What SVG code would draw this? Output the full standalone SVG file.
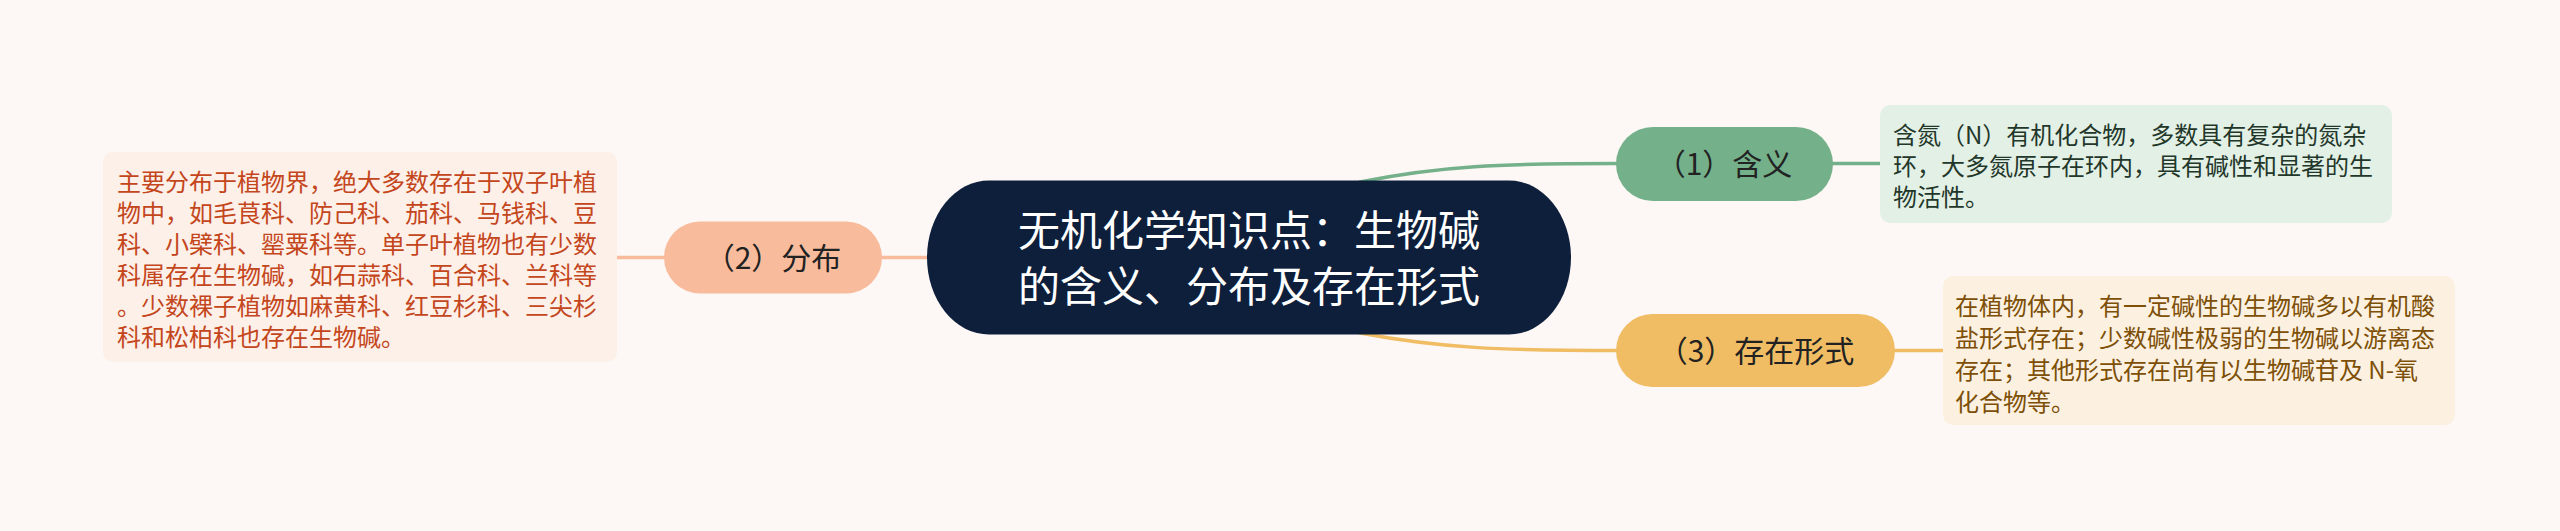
<svg xmlns="http://www.w3.org/2000/svg" width="2560" height="531" viewBox="0 0 2560 531">
<style>
text{font-family:"Noto Sans CJK SC","Noto Sans",sans-serif;}
.main{fill:#ffffff;font-size:42px;text-anchor:middle;}
.lbl{fill:#222222;font-size:30px;text-anchor:middle;}
.desc{font-size:24px;}
.c{fill:none;stroke-width:3.5;stroke-linecap:round;}
</style>
<rect x="0" y="0" width="2560" height="531" fill="#fdf8f6"/>
<g id="connectors">
<path class="c" stroke="#f8bc9c" d="M617,257.5 L664,257.5"/>
<path class="c" stroke="#f8bc9c" d="M882,257.5 L928,257.5"/>
<path class="c" stroke="#74b08a" d="M1360,182 C1440,166 1500,163.5 1617,163.5"/>
<path class="c" stroke="#74b08a" d="M1833,163.5 L1880,163.5"/>
<path class="c" stroke="#f0bd64" d="M1360,333 C1440,348 1500,350.5 1617,350.5"/>
<path class="c" stroke="#f0bd64" d="M1895,350.5 L1943,350.5"/>
</g>
<g id="main">
<rect x="927" y="180.5" width="644" height="154" rx="62" ry="77" fill="#0e1f3b"/>
<text class="main" x="1249" y="246">无机化学知识点：生物碱</text>
<text class="main" x="1249" y="302">的含义、分布及存在形式</text>
</g>
<g id="n1">
<rect x="1616" y="127" width="217" height="74" rx="37" ry="37" fill="#74b08a"/>
<text class="lbl" x="1724" y="175">（1）含义</text>
</g>
<g id="n1d">
<rect x="1880" y="105" width="512" height="118" rx="10" ry="10" fill="#e3f0e6"/>
<g class="desc" fill="#22372a">
<text x="1893" y="144">含氮（N）有机化合物，多数具有复杂的氮杂</text>
<text x="1893" y="175">环，大多氮原子在环内，具有碱性和显著的生</text>
<text x="1893" y="206">物活性。</text>
</g>
</g>
<g id="n2">
<rect x="664" y="221.5" width="218" height="72" rx="36" ry="36" fill="#f8bc9c"/>
<text class="lbl" x="773" y="269">（2）分布</text>
</g>
<g id="n2d">
<rect x="103" y="152" width="514" height="210" rx="10" ry="10" fill="#fdf0e8"/>
<g class="desc" fill="#c4461c">
<text x="117" y="191">主要分布于植物界，绝大多数存在于双子叶植</text>
<text x="117" y="222">物中，如毛茛科、防己科、茄科、马钱科、豆</text>
<text x="117" y="253">科、小檗科、罂粟科等。单子叶植物也有少数</text>
<text x="117" y="284">科属存在生物碱，如石蒜科、百合科、兰科等</text>
<text x="117" y="315">。少数裸子植物如麻黄科、红豆杉科、三尖杉</text>
<text x="117" y="346">科和松柏科也存在生物碱。</text>
</g>
</g>
<g id="n3">
<rect x="1616" y="314" width="279" height="73" rx="36.5" ry="36.5" fill="#f0bd64"/>
<text class="lbl" x="1756" y="362">（3）存在形式</text>
</g>
<g id="n3d">
<rect x="1943" y="276" width="512" height="149" rx="10" ry="10" fill="#fcf1e0"/>
<g class="desc" fill="#7d4f07">
<text x="1955" y="315">在植物体内，有一定碱性的生物碱多以有机酸</text>
<text x="1955" y="347">盐形式存在；少数碱性极弱的生物碱以游离态</text>
<text x="1955" y="379">存在；其他形式存在尚有以生物碱苷及 N-氧</text>
<text x="1955" y="411">化合物等。</text>
</g>
</g>
</svg>
